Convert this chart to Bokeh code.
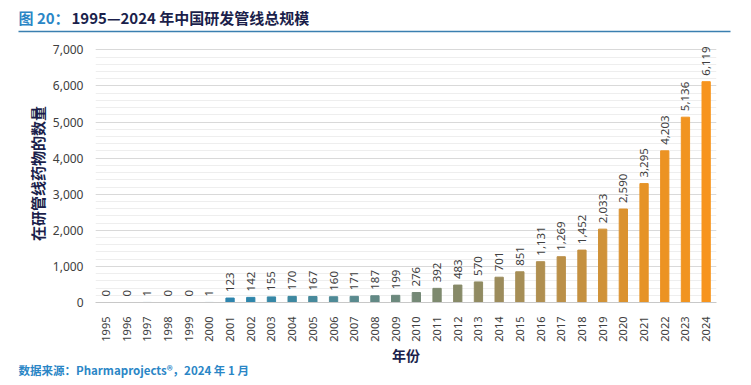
import math
from bokeh.plotting import figure
from bokeh.layouts import column, row
from bokeh.models import ColumnDataSource, FixedTicker, NumeralTickFormatter, Range1d, Title
from bokeh.embed import file_html
from bokeh.resources import INLINE
from bokeh.core.properties import value

years = [str(y) for y in range(1995, 2025)]
counts = [0, 0, 1, 0, 0, 1, 123, 142, 155, 170, 167, 160, 171, 187, 199,
          276, 392, 483, 570, 701, 851, 1131, 1269, 1452, 2033, 2590, 3295,
          4203, 5136, 6119]
y_ticks = [0, 1000, 2000, 3000, 4000, 5000, 6000, 7000]

title_prefix = "图 20："
title_rest = "1995—2024 年中国研发管线总规模"
x_title = "年份"
y_title = "在研管线药物的数量"
source_note = "数据来源：Pharmaprojects®，2024 年 1 月"

W = 751

# colour stops (style)
stops = [(0, "#2c82bd"), (7, "#2e86ab"), (11, "#4f8a96"), (14, "#6c897d"),
         (17, "#878a68"), (21, "#b08f50"), (24, "#d09238"), (26, "#e69326"), (29, "#f7941d")]

def hx(c):
    return tuple(int(c[i:i + 2], 16) for i in (1, 3, 5))

def col_at(i):
    for (a, ca), (b, cb) in zip(stops[:-1], stops[1:]):
        if a <= i <= b:
            t = (i - a) / (b - a) if b > a else 0
            r = [round(x + (y - x) * t) for x, y in zip(hx(ca), hx(cb))]
            return "#%02x%02x%02x" % tuple(r)
    return stops[-1][1]

colors = [col_at(i) for i in range(len(years))]
labels = [f"{v:,}" for v in counts]

# header
head = figure(width=W, height=40, x_range=Range1d(0, W), y_range=Range1d(40, 0),
              x_axis_type=None, y_axis_type=None,
              output_backend="svg", toolbar_location=None,
              min_border_left=0, min_border_right=0, min_border_top=0, min_border_bottom=0)
head.grid.visible = False
head.outline_line_color = None
head.text(x=[18], y=[17], text=[title_prefix], text_font=value("Noto Sans CJK SC"),
          text_font_style="bold", text_font_size="15px", text_color="#2a86c6",
          text_baseline="middle", text_align="left")
head.text(x=[71], y=[17], text=[title_rest], text_font=value("Noto Sans CJK SC"),
          text_font_style="bold", text_font_size="15px", text_color="#1b1f4b",
          text_baseline="middle", text_align="left")
head.segment(x0=[18], y0=[31], x1=[730], y1=[31], line_color="#3a7fb0", line_width=1.5)

# main chart
src = ColumnDataSource(dict(year=years, count=counts, color=colors, label=labels))

p = figure(x_range=years, y_range=Range1d(0, 7150), width=W, height=345,
           output_backend="svg", toolbar_location=None,
           min_border_left=95, min_border_right=35, min_border_top=4, min_border_bottom=83)
p.outline_line_color = None
p.background_fill_color = "white"

p.vbar(x="year", top="count", width=0.4, color="color", source=src)
p.text(x="year", y="count", text="label", source=src, angle=math.pi / 2,
       x_offset=0, y_offset=-6, text_align="left", text_baseline="middle",
       text_font=value("Noto Sans"), text_font_size="11.5px", text_color="#404040")

p.yaxis.ticker = FixedTicker(ticks=y_ticks, minor_ticks=list(range(0, 7001, 200)))
p.yaxis.formatter = NumeralTickFormatter(format="0,0")
p.yaxis.axis_line_color = None
p.yaxis.major_tick_line_color = None
p.yaxis.minor_tick_line_color = None
p.yaxis.major_label_standoff = 6
p.yaxis.major_label_text_font = "Noto Sans"
p.yaxis.major_label_text_font_size = "12px"
p.yaxis.major_label_text_color = "#404040"
p.yaxis.axis_label = y_title
p.yaxis.axis_label_text_font = "Noto Sans CJK SC"
p.yaxis.axis_label_text_font_style = "bold"
p.yaxis.axis_label_text_font_size = "15px"
p.yaxis.axis_label_text_color = "#1b1f4b"
p.yaxis.axis_label_standoff = 2

p.xaxis.axis_line_color = "#c8c8c8"
p.xaxis.major_tick_line_color = None
p.xaxis.minor_tick_line_color = None
p.xaxis.major_label_orientation = math.pi / 2
p.xaxis.major_label_standoff = 8
p.xaxis.major_label_text_font = "Noto Sans"
p.xaxis.major_label_text_font_size = "11px"
p.xaxis.major_label_text_color = "#404040"
p.xaxis.axis_label = x_title
p.xaxis.axis_label_text_font = "Noto Sans CJK SC"
p.xaxis.axis_label_text_font_style = "bold"
p.xaxis.axis_label_text_font_size = "14px"
p.xaxis.axis_label_text_color = "#1b1f4b"
p.xaxis.axis_label_standoff = 0

p.xgrid.grid_line_color = None
p.ygrid.grid_line_color = "#d9d9d9"
p.ygrid.minor_grid_line_color = "#eeeeee"

# footnote as a left-aligned title below the axis
fn = Title(text=source_note, align="left", offset=-77, standoff=-16,
           text_font="Noto Sans CJK SC", text_font_style="bold", text_font_size="11.5px",
           text_color="#2a86c6")
p.add_layout(fn, "below")

layout = column(head, row(p), spacing=0)
open("out.html", "w").write(file_html(layout, INLINE))
